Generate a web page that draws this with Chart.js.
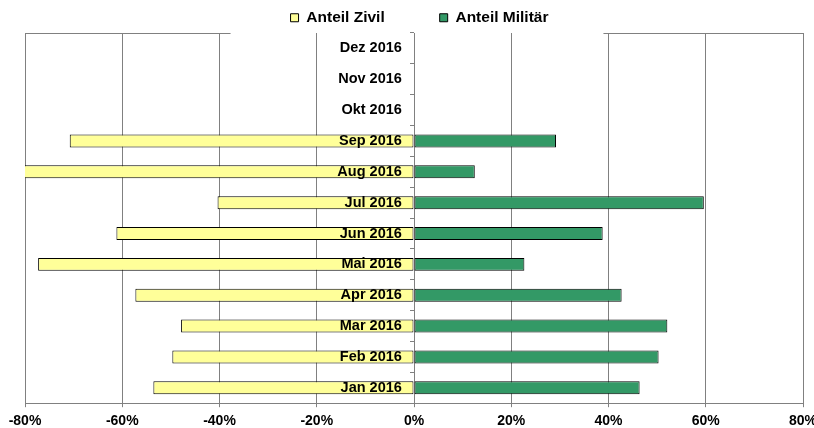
<!DOCTYPE html>
<html>
<head>
<meta charset="utf-8">
<script src="https://cdn.jsdelivr.net/npm/chart.js@4.4.1/dist/chart.umd.min.js"></script>
<style>
  body { margin: 0; background: #fff; }
  #wrap { width: 814px; height: 428px; }
</style>
</head>
<body>
<div id="wrap"><canvas id="shareChart"></canvas></div>
<script>
// Monate (unten beginnend)
const months = ['Jan 2016', 'Feb 2016', 'Mar 2016', 'Apr 2016', 'Mai 2016', 'Jun 2016',
                'Jul 2016', 'Aug 2016', 'Sep 2016', 'Okt 2016', 'Nov 2016', 'Dez 2016'];
// Anteile in %, Zivil nach links (negativ)
const anteilZivil = [-53.6, -49.7, -47.9, -57.3, -77.3, -61.2, -40.4, -87.5, -70.8, null, null, null];
const anteilMilitaer = [46.4, 50.3, 52.1, 42.7, 22.7, 38.8, 59.6, 12.5, 29.2, null, null, null];
const xTicks = [-80, -60, -40, -20, 0, 20, 40, 60, 80];

const fontFamily = 'Arial, "Liberation Sans", sans-serif';

// oberer Rahmen, mit Lücke hinter der Legende (wie im Original)
const topFrame = {
	id: 'topFrame',
	beforeDatasetsDraw(chart) {
		const area = chart.chartArea;
		const boxes = chart.legend.legendHitBoxes;
		const last = boxes[boxes.length - 1];
		const gapL = boxes[0].left - 60;
		const gapR = last.left + last.width + 55;
		const c = chart.ctx;
		c.save();
		c.strokeStyle = '#808080';
		c.lineWidth = 1;
		c.beginPath();
		c.moveTo(area.left, area.top + 0.5);
		c.lineTo(gapL, area.top + 0.5);
		c.moveTo(gapR, area.top + 0.5);
		c.lineTo(area.right, area.top + 0.5);
		c.stroke();
		c.restore();
	}
};

var ctx = document.getElementById('shareChart').getContext('2d');

var chart = new Chart(ctx, {
	type: 'bar',
	data: {
		labels: months,
		datasets: [{
			label: 'Anteil Zivil',
			data: anteilZivil,
			backgroundColor: '#FFFF99',
			borderColor: '#000000',
			borderWidth: 1,
			borderSkipped: false
		}, {
			label: 'Anteil Militär',
			data: anteilMilitaer,
			backgroundColor: '#339966',
			borderColor: '#000000',
			borderWidth: 1,
			borderSkipped: false
		}]
	},
	options: {
		indexAxis: 'y',
		responsive: true,
		maintainAspectRatio: false,
		animation: false,
		layout: {
			// negative top padding: the wide legend padding would otherwise push the plot down
			padding: { left: 25, right: 0, top: -45, bottom: -8 }
		},
		datasets: {
			bar: {
				categoryPercentage: 1.0,
				barPercentage: 0.42
			}
		},
		scales: {
			x: {
				stacked: true,
				min: -80,
				max: 80,
				afterBuildTicks: function(scale) {
					scale.ticks = xTicks.map(v => ({ value: v }));
				},
				afterFit: function(scale) {
					scale.paddingRight = 11;
				},
				grid: {
					color: '#808080',
					lineWidth: 1,
					tickLength: 4
				},
				border: { color: '#808080' },
				ticks: {
					callback: v => v + '%',
					color: '#000',
					font: { family: fontFamily, size: 14, weight: 'bold' },
					padding: 6,
					maxRotation: 0
				}
			},
			// Monatsnamen, etwas links der Nulllinie
			y: {
				stacked: true,
				reverse: true,
				position: { x: -2.5 },
				grid: { display: false },
				border: { display: false },
				ticks: {
					z: 1,
					color: '#000',
					font: { family: fontFamily, size: 14.5, weight: 'bold' }
				}
			},
			// kleine Teilstriche an der Nulllinie
			y2: {
				type: 'category',
				labels: months,
				reverse: true,
				position: { x: 0 },
				offset: true,
				grid: {
					offset: true,
					drawOnChartArea: false,
					tickLength: 4,
					color: '#808080'
				},
				border: { color: '#808080' },
				ticks: { display: false }
			}
		},
		plugins: {
			legend: {
				position: 'top',
				maxHeight: 78,
				labels: {
					color: '#000',
					font: { family: fontFamily, size: 15.5, weight: 'bold' },
					boxWidth: 8,
					boxHeight: 8,
					padding: 55
				}
			},
			tooltip: { enabled: false }
		}
	},
	plugins: [topFrame]
});
</script>
</body>
</html>
